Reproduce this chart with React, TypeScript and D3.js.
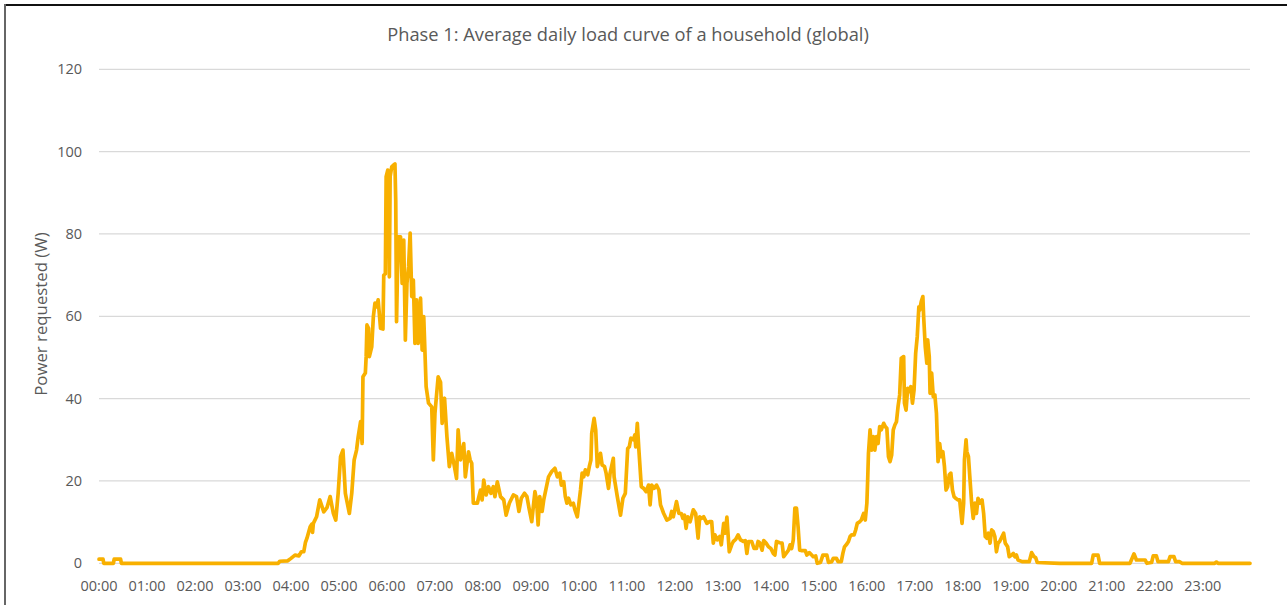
import React from "react";
import * as d3 from "d3";

// ---- data ----
const chartTitle = "Phase 1: Average daily load curve of a household (global)";
const yAxisTitle = "Power requested (W)";
const hourLabels = [
  "00:00", "01:00", "02:00", "03:00", "04:00", "05:00", "06:00", "07:00",
  "08:00", "09:00", "10:00", "11:00", "12:00", "13:00", "14:00", "15:00",
  "16:00", "17:00", "18:00", "19:00", "20:00", "21:00", "22:00", "23:00",
];
const yTicks = [0, 20, 40, 60, 80, 100, 120];

// minute of the day
const minutes = [
  0, 5, 6, 18, 19, 27, 28, 224,
  226, 236, 240, 245, 250, 253, 256, 258, 260, 264, 266, 267, 268, 272, 276, 281, 285, 289, 293, 296, 299,
  302, 305, 308, 313, 316, 319, 322, 324, 327, 329, 330, 333, 334, 335, 337, 338, 341, 343, 345, 347, 349,
  352, 355, 356, 358, 359, 361, 362, 363, 364, 366, 368, 370, 371, 372, 374, 377, 379, 381, 383, 385, 387,
  389, 391, 393, 395, 397, 399, 402, 404, 406, 409, 412, 416, 418, 420, 424, 427, 429, 432, 435, 438, 441,
  444, 447, 449, 452, 456, 458, 462,
  464, 466, 468, 473, 477, 479, 481, 484, 487, 490, 493, 495, 498, 502, 506, 509, 513, 518, 522, 525, 528,
  532, 535, 538, 541, 545, 547, 549, 551, 554, 556, 559, 562, 566, 570, 573, 576, 578, 581, 583, 585, 587,
  590, 593, 595, 598, 602, 604, 606, 608, 611, 613, 615, 616, 619, 621, 623, 627, 629, 632, 634, 637, 639,
  643, 644, 648, 652, 655, 658, 661, 663, 665, 668, 670, 671, 673, 675, 678, 681, 684, 687, 689, 691, 694,
  697, 700, 702, 706, 710, 714, 716, 718, 722, 725, 728, 730, 732, 734, 736, 739, 743, 746, 749,
  751, 753, 756, 760, 763, 766, 768, 770, 773, 776, 778, 781, 783, 785, 788, 791, 793, 796, 799, 802, 806,
  808, 810, 812, 816, 819, 822, 824, 826, 829, 831, 834, 837, 840, 843, 845, 847, 851, 854, 856, 859, 862,
  864, 866, 868, 870, 872, 874, 876, 878, 883, 885, 888, 891, 893, 896, 898, 902, 905, 910, 912, 916, 918,
  922, 924, 928, 930, 932, 935, 937, 939, 941, 944, 946, 948, 951, 953, 956, 958, 960, 961, 962, 964, 966,
  968, 970, 972, 974, 976, 978, 981, 983, 985, 987, 989, 991, 993, 995, 997, 999, 1001,
  1003, 1006, 1007, 1009, 1011, 1013, 1015, 1017, 1019, 1021, 1023, 1025, 1026, 1028, 1030, 1031, 1033,
  1035, 1036, 1038, 1039, 1041, 1043, 1045, 1047, 1049, 1051, 1053, 1055, 1057, 1059, 1061, 1063, 1065,
  1067, 1069, 1071, 1074, 1076, 1079, 1081, 1082, 1084, 1085, 1087, 1089, 1091, 1093, 1095, 1097, 1099,
  1101, 1104, 1106, 1108, 1110, 1112, 1114, 1116, 1118, 1120, 1122, 1124, 1126, 1129, 1131, 1133, 1136,
  1138, 1141, 1143, 1145, 1147, 1149, 1154, 1163, 1166, 1169, 1171, 1173, 1201,
  1241, 1243, 1249, 1251, 1289, 1294, 1297, 1308, 1310, 1316, 1318, 1322, 1324, 1337, 1339, 1344, 1346,
  1351, 1354, 1395, 1397, 1399, 1439,
];

// average power (W)
const watts = [
  1, 1, 0, 0, 1, 1, 0, 0,
  0.5, 0.6, 1.2, 2, 1.8, 2.8, 2.8, 5, 6.1, 8.9, 9.5, 7.5, 9.7, 11.3, 15.4, 12.5, 13.5, 16.2, 12.1, 10.5, 17,
  25.9, 27.5, 17, 12.1, 17, 25.1, 27.5, 30.7, 34.4, 29.1, 45.3, 46.2, 50.2, 57.9, 57.1, 50.2, 52.6, 59.9, 63.2, 62.3, 64,
  57.1, 56.9, 70, 70.3, 93.9, 95.5, 94, 69.6, 94, 96.3, 96.7, 97, 88, 58.7, 79.3, 79.3, 68, 78.5, 54.2, 68, 72,
  80.2, 64.8, 68.8, 53.4, 64, 53.4, 64.4, 51.8, 59.9, 42.9, 38.9, 38, 25.1, 36.4, 45.3, 44, 34, 40.1, 30.7, 23.5, 26.7,
  23.9, 20.6, 32.4, 25.1, 29.1, 21, 27.1,
  25.1, 24.3, 14.6, 14.6, 17.8, 15.4, 20.2, 16.6, 18.6, 17, 18.6, 16.2, 19.8, 16.2, 15.4, 11.7, 14.6, 16.6, 16.2, 12.6, 15.8,
  17, 16.2, 13, 10.1, 17.4, 15.4, 9.3, 16.2, 12.6, 15.4, 18.2, 21, 22.3, 23.1, 21, 21.9, 19, 19.8, 16.2, 14.6, 15.8,
  14.2, 14.6, 13, 11.3, 17.8, 21.9, 21, 22.7, 21.5, 23.5, 25.1, 31.6, 35.2, 32.4, 23.5, 26.7, 23.9, 23.5, 21.9, 18.2, 21.9,
  25.5, 21, 16.2, 11.7, 15.8, 17, 27.9, 28.3, 30.4, 30, 31.2, 28.3, 34, 27.5, 18.6, 18.2, 17.4, 19, 14.2, 19, 18.2,
  19, 17.8, 14.2, 12.1, 10.5, 10.9, 12.6, 11.3, 15, 12.1, 12.1, 10.9, 11.7, 8.5, 11.3, 10.1, 13, 12.1, 6.1,
  11.3, 10.9, 11.3, 9.7, 10.1, 10.1, 4.9, 6.9, 5.7, 6.5, 4.5, 9.7, 7.3, 11.2, 2.8, 4.5, 5.3, 5.8, 6.9, 5.7, 5.3,
  5.5, 2.4, 5.3, 5.3, 3.6, 3.6, 5.3, 5, 3.2, 5.5, 4.9, 4, 3.6, 2.4, 2, 5.3, 5, 4.9, 1.6, 2.4, 3.2,
  4.5, 3.6, 5.7, 13.4, 13.4, 8.9, 3.2, 3.1, 3.1, 2, 2.6, 2, 1.6, 1.8, 0, 0.2, 2, 2, 0.2, 0.4, 1.2,
  1.2, 0.4, 0.4, 2.4, 4, 4.7, 5.3, 6.5, 6.9, 6.9, 8.1, 9.7, 10.1, 10.5, 12.1, 10.5, 14.6, 20.2, 26.7, 32.4, 27.5,
  30.8, 27.5, 30.8, 29.1, 33.2, 32.4, 34, 33.2, 32.8, 25.9, 24.7, 26.3, 32.4, 33.6, 34.4, 38.1, 40.9,
  49.8, 50.2, 38.9, 37.2, 42.5, 41.7, 42.9, 38.9, 42.1, 51, 55.1, 62.3, 61.5, 63.6, 64.8, 59.9, 52.6,
  48.6, 54.3, 50.2, 41.3, 46.2, 40.5, 40.9, 36.4, 24.7, 29.1, 25.9, 27.1, 23.5, 17.8, 18.6, 21.5, 21.9,
  17.8, 16.2, 15.8, 15.4, 15.4, 9.7, 14.6, 25.1, 30, 27.1, 25.9, 20.2, 14.6, 10.9, 14.6, 12.1, 15.8,
  14.6, 15.4, 12.1, 6.5, 6.1, 7.3, 4.9, 8.1, 7.7, 6.5, 2.8, 4.9, 5.3, 6.5, 7.3, 4.9, 4,
  1.6, 2, 2.4, 1.6, 2, 0.8, 0.4, 0.4, 2.6, 1.6, 1.4, 0.2, 0,
  0, 2, 2, 0, 0, 2.3, 0.8, 0.8, 0, 0.2, 1.8, 1.8, 0.4, 0.4, 1.6, 1.6, 0.4,
  0.4, 0, 0, 0.3, 0, 0,
];

const W = 1287;
const H = 605;
const plotLeft = 99;
const plotRight = 1250;
const plotTop = 69.3;
const plotBottom = 563.3;
const FONT = "'Open Sans', 'Noto Sans', sans-serif";
const TEXT = "#595959";
const LINE = "#F8B000";

export default function App() {
  const x = d3.scaleLinear().domain([0, 1439]).range([plotLeft, plotRight]);
  const y = d3.scaleLinear().domain([0, 120]).range([plotBottom, plotTop]);
  const pts: [number, number][] = minutes.map((m, i) => [m, watts[i]]);
  const path = d3
    .line<[number, number]>()
    .x((d) => x(d[0]))
    .y((d) => y(d[1]))(pts) as string;

  return (
    <svg
      width={W}
      height={H}
      style={{ position: "absolute", left: 0, top: 0, background: "#fff" }}
    >
      <rect x={0} y={0} width={W} height={H} fill="#fff" />
      {/* frame */}
      <line x1={4} x2={W} y1={5} y2={5} stroke="#111" strokeWidth={2} />
      <line x1={5} x2={5} y1={4} y2={H} stroke="#666" strokeWidth={2} />

      {/* title */}
      <text
        x={628}
        y={41}
        textAnchor="middle"
        fontFamily={FONT}
        fontSize={18.3}
        fill={TEXT}
      >
        {chartTitle}
      </text>

      {/* gridlines + y ticks */}
      {yTicks.map((t) => (
        <g key={t}>
          <line
            x1={plotLeft}
            x2={plotRight}
            y1={y(t)}
            y2={y(t)}
            stroke="#D9D9D9"
            strokeWidth={1.2}
          />
          <text
            x={82}
            y={y(t)}
            dy="0.35em"
            textAnchor="end"
            fontFamily={FONT}
            fontSize={14.5}
            fill={TEXT}
          >
            {t}
          </text>
        </g>
      ))}

      {/* x labels */}
      {hourLabels.map((lab, i) => (
        <text
          key={lab}
          x={x(i * 60)}
          y={591}
          textAnchor="middle"
          fontFamily={FONT}
          fontSize={14.5}
          fill={TEXT}
        >
          {lab}
        </text>
      ))}

      {/* y axis title */}
      <text
        transform={`translate(47,314) rotate(-90)`}
        textAnchor="middle"
        fontFamily={FONT}
        fontSize={16.8}
        fill={TEXT}
      >
        {yAxisTitle}
      </text>

      {/* series */}
      <path
        d={path}
        fill="none"
        stroke={LINE}
        strokeWidth={3.7}
        strokeLinejoin="round"
        strokeLinecap="round"
      />
    </svg>
  );
}
